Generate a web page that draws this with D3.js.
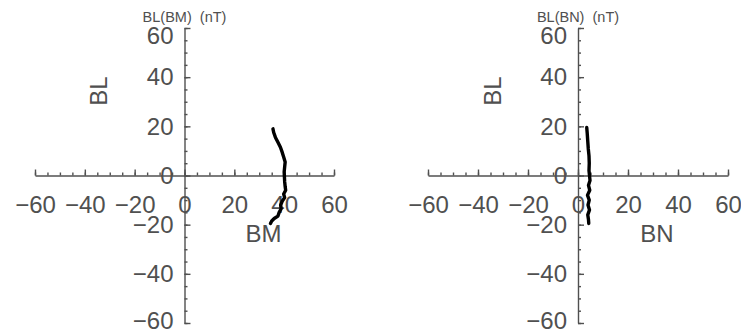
<!DOCTYPE html>
<meta charset="utf-8">
<style>
  body { margin: 0; background: #fff; }
  svg text { font-family: "Liberation Sans", Arial, sans-serif; fill: #505050; }
  .axis path, .axis line { stroke: #505050; stroke-width: 1.4; }
  .axis text { font-size: 24px; }
</style>
<svg class="chart" width="741" height="332"></svg>
<script src="https://d3js.org/d3.v7.min.js"></script>
<script>

  // BM vs BL (nT)
  var bmValues = [35.5, 35.8, 36.5, 37.5, 38.5, 39.2, 39.8, 40.4, 40.2, 40.0, 40.1, 40.2,
                  40.4, 40.6, 39.8, 40.2, 39.2, 38.6, 38.8, 38.0, 37.5, 36.0, 35.0, 34.5];
  var blLeft   = [19, 17.5, 15.5, 13.5, 11.5, 9.5, 7.5, 5.5, 3.5, 1.5, -0.5, -2.5,
                  -4.5, -6, -7.5, -9, -10.5, -12, -13.5, -15, -16.5, -17.5, -18.5, -19.5];

  // BN vs BL, right panel
  var bnValues = [3.5, 3.7, 3.9, 4.1, 4.4, 4.5, 4.4, 4.6, 4.8, 4.2, 4.7, 3.8,
                  4.5, 4.0, 4.6, 3.9, 4.2, 4.3];
  var blRight  = [19.5, 17, 14, 11, 8, 5, 2, 0, -2, -4, -6, -8,
                  -10, -12, -14, -16, -18, -19.5];

  var majorTicks = [-60, -40, -20, 0, 20, 40, 60];
  var minorTicks = d3.range(-60, 61, 5);

  var panels = [
    { title: "BL(BM)  (nT)", xLabel: "BM", yLabel: "BL", xs: bmValues, ys: blLeft,  left: 35,  right: 334 },
    { title: "BL(BN)  (nT)", xLabel: "BN", yLabel: "BL", xs: bnValues, ys: blRight, left: 428, right: 728 }
  ];

  var svg = d3.select(".chart");

  var fmt = function(d) { return d < 0 ? "\u2212" + Math.abs(d) : String(d); };

  panels.forEach(function(p) {
    var x = d3.scaleLinear().domain([-60, 60]).range([p.left, p.right]);
    var y = d3.scaleLinear().domain([-60, 60]).range([323, 28]);
    var x0 = x(0), y0 = y(0);

    var g = svg.append("g");

    // minor ticks
    g.append("g")
        .attr("class", "axis")
        .attr("transform", "translate(0," + y0 + ")")
        .call(d3.axisTop(x).tickValues(minorTicks).tickSize(3).tickFormat(""))
        .call(function(s) { s.select(".domain").remove(); });

    g.append("g")
        .attr("class", "axis")
        .attr("transform", "translate(" + x0 + ",0)")
        .call(d3.axisRight(y).tickValues(minorTicks).tickSize(3).tickFormat(""))
        .call(function(s) { s.select(".domain").remove(); });

    // major ticks + labels
    g.append("g")
        .attr("class", "axis")
        .attr("transform", "translate(0," + y0 + ")")
        .call(d3.axisBottom(x).tickValues(majorTicks).tickSizeInner(-6).tickSizeOuter(0)
              .tickPadding(20).tickFormat(fmt));

    g.append("g")
        .attr("class", "axis")
        .attr("transform", "translate(" + x0 + ",0)")
        .call(d3.axisLeft(y).tickValues(majorTicks).tickSizeInner(-6).tickSizeOuter(0)
              .tickPadding(11).tickFormat(fmt))
        .call(function(s) {
          // top and bottom labels sit inside the axis ends
          s.selectAll(".tick text").attr("y", function(d) { return d === 60 ? 8 : d === -60 ? -2 : 0; });
        });

    g.selectAll(".axis .tick text").attr("fill", null);

    // curve
    var pts = p.xs.map(function(v, i) { return [v, p.ys[i]]; });
    g.append("path")
        .datum(pts)
        .attr("fill", "none")
        .attr("stroke", "#000")
        .attr("stroke-width", 3.4)
        .attr("stroke-linejoin", "round")
        .attr("stroke-linecap", "round")
        .attr("d", d3.line().x(function(d) { return x(d[0]); }).y(function(d) { return y(d[1]); }));

    g.append("text")
        .attr("x", x0)
        .attr("y", 22)
        .attr("text-anchor", "middle")
        .style("font-size", "14.5px")
        .style("white-space", "pre")
        .text(p.title);

    g.append("text")
        .attr("transform", "translate(" + (x0 - 77.5) + ",91) rotate(-90)")
        .attr("text-anchor", "middle")
        .style("font-size", "24px")
        .text(p.yLabel);

    g.append("text")
        .attr("x", x0 + 79)
        .attr("y", 242)
        .attr("text-anchor", "middle")
        .style("font-size", "24px")
        .text(p.xLabel);
  });

</script>
